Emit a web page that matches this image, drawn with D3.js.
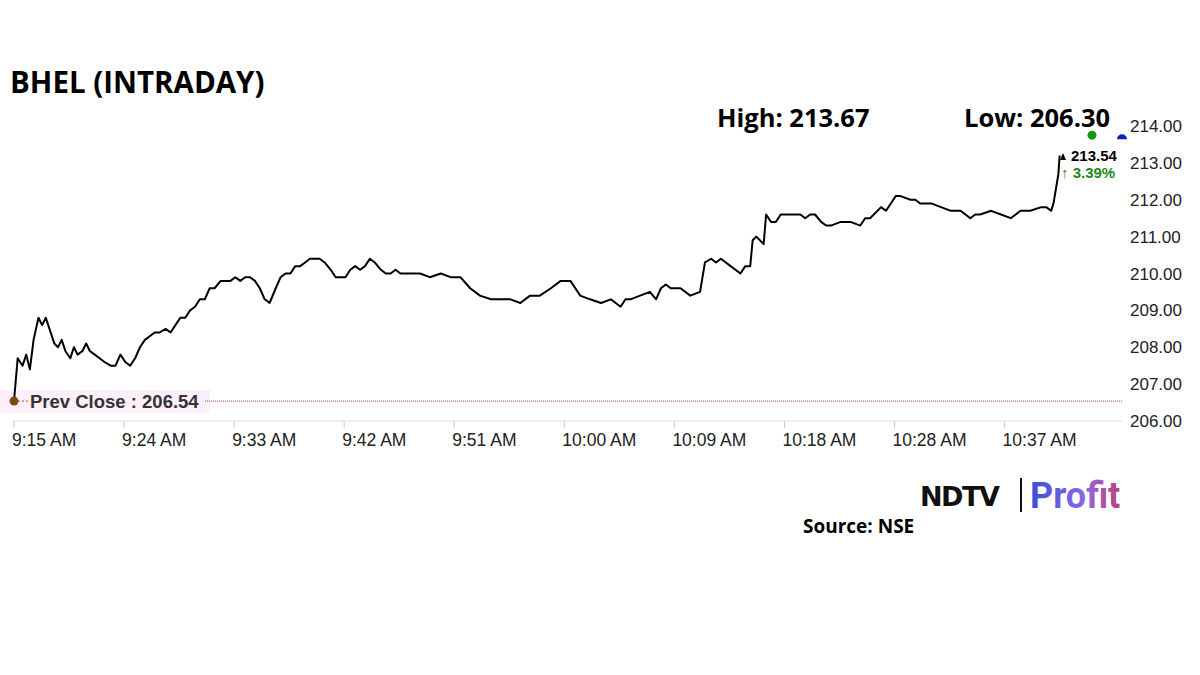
<!DOCTYPE html>
<html><head><meta charset="utf-8">
<script src="https://cdn.jsdelivr.net/npm/d3@7"></script>
<style>body{margin:0;background:#fff}svg{display:block}</style>
</head><body>
<svg id="c" width="1200" height="675"></svg>
<script>
// minutes since 9:15 AM
const minutes=[0,0.3,0.7,1.0,1.3,1.6,2.0,2.3,2.6,2.9,3.3,3.6,3.9,4.2,4.6,4.9,5.2,5.6,5.9,6.2,6.6,7.0,7.4,7.9,8.3,8.7,9.1,9.5,9.9,10.3,10.7,11.1,11.5,11.9,12.4,12.8,13.2,13.6,14.0,14.4,14.8,15.2,15.6,16.0,16.4,16.9,17.3,17.7,18.1,18.5,18.9,19.3,19.7,20.1,20.5,20.9,21.4,21.8,22.2,22.6,23.0,23.4,23.8,24.2,24.6,25.0,25.4,25.9,26.3,26.7,27.1,27.5,27.9,28.3,28.7,29.1,29.5,30.0,30.4,30.8,31.2,31.6,32.4,33.2,34.0,34.9,35.7,36.5,37.3,38.1,39.0,39.8,40.6,41.4,42.2,43.0,43.9,44.7,45.5,45.9,46.3,47.1,48.0,48.8,49.6,50.0,50.4,51.2,52.0,52.5,52.9,53.3,53.7,54.5,55.3,56.1,56.5,57.0,57.4,57.8,58.6,59.4,59.8,60.2,60.4,60.7,61.3,61.5,61.9,62.3,62.7,63.5,64.3,64.7,65.1,65.5,66.0,66.4,66.8,67.6,68.4,69.2,69.6,70.0,70.9,71.3,71.7,72.1,72.5,73.3,73.7,74.1,75.0,75.8,76.6,77.4,77.8,78.2,78.6,79.0,79.9,80.7,81.5,82.3,83.1,84.0,84.4,84.8,85.0,85.4,85.5];
const prices=[206.54,207.7,207.5,207.8,207.4,208.2,208.8,208.6,208.8,208.5,208.1,208.0,208.2,207.9,207.7,208.0,207.8,207.9,208.1,207.9,207.8,207.7,207.6,207.5,207.5,207.8,207.6,207.5,207.7,208.0,208.2,208.3,208.4,208.4,208.5,208.4,208.6,208.8,208.8,209.0,209.1,209.3,209.3,209.6,209.6,209.8,209.8,209.8,209.9,209.8,209.9,209.9,209.8,209.6,209.3,209.2,209.6,209.9,210.0,210.0,210.2,210.2,210.3,210.4,210.4,210.4,210.3,210.1,209.9,209.9,209.9,210.1,210.2,210.1,210.2,210.4,210.3,210.1,210.0,210.0,210.1,210.0,210.0,210.0,209.9,210.0,209.9,209.9,209.6,209.4,209.3,209.3,209.3,209.2,209.4,209.4,209.6,209.8,209.8,209.6,209.4,209.3,209.2,209.3,209.1,209.3,209.3,209.4,209.5,209.3,209.6,209.7,209.6,209.6,209.4,209.5,210.3,210.4,210.3,210.4,210.2,210.0,210.2,210.2,210.9,211.0,210.8,211.6,211.4,211.4,211.6,211.6,211.6,211.5,211.6,211.6,211.4,211.3,211.3,211.4,211.4,211.3,211.5,211.5,211.8,211.7,211.9,212.1,212.1,212.0,212.0,211.9,211.9,211.8,211.7,211.7,211.6,211.5,211.6,211.6,211.7,211.6,211.5,211.7,211.7,211.8,211.8,211.7,211.9,212.7,213.2];
const tickMinutes=[0,9,18,27,36,45,54,63,72,81];
const tickLabels=["9:15 AM","9:24 AM","9:33 AM","9:42 AM","9:51 AM","10:00 AM","10:09 AM","10:18 AM","10:28 AM","10:37 AM"];
const yTicks=[206,207,208,209,210,211,212,213,214];
const prevClose=206.54, high=213.67, low=206.30, lastPrice=213.54, changePct=3.39;

const svg=d3.select("#c");
const x=d3.scaleLinear().domain([0,90.6]).range([14,1122]);
const y=d3.scaleLinear().domain([206,214]).range([421,126]);
const F="Liberation Sans, Arial, sans-serif";

svg.append("text").attr("x",10).attr("y",93).text("BHEL (INTRADAY)")
 .attr("font-family","Open Sans, sans-serif").attr("font-weight",700).attr("font-size",29.5).attr("fill","#000");
svg.append("text").attr("x",717).attr("y",127).text("High: "+high.toFixed(2))
 .attr("font-family","Open Sans, sans-serif").attr("font-weight",700).attr("font-size",25.5);
svg.append("text").attr("x",964).attr("y",127).text("Low: "+low.toFixed(2))
 .attr("font-family","Open Sans, sans-serif").attr("font-weight",700).attr("font-size",25.5);

// x axis
svg.append("line").attr("x1",14).attr("x2",1122).attr("y1",421).attr("y2",421).attr("stroke","#ddd");
const xa=svg.append("g");
xa.selectAll("line").data(tickMinutes).join("line").attr("x1",d=>x(d)).attr("x2",d=>x(d))
 .attr("y1",421).attr("y2",428).attr("stroke","#ccc");
xa.selectAll("text").data(tickMinutes).join("text").attr("x",d=>x(d)-2).attr("y",446)
 .text((d,i)=>tickLabels[i]).attr("font-family",F).attr("font-size",17.5).attr("fill","#222");
// y axis
svg.append("g").selectAll("text").data(yTicks).join("text").attr("x",1130).attr("y",d=>y(d)+6)
 .text(d=>d.toFixed(2)).attr("font-family",F).attr("font-size",17).attr("fill","#222");

// prev close
svg.append("rect").attr("x",0).attr("y",y(prevClose)-11).attr("width",210).attr("height",23).attr("fill","#fdf0fa");
svg.append("line").attr("x1",205).attr("x2",1122).attr("y1",y(prevClose)).attr("y2",y(prevClose))
 .attr("stroke","#a0522d").attr("stroke-width",1).attr("stroke-dasharray","1,1");
svg.append("line").attr("x1",14).attr("x2",28).attr("y1",y(prevClose)).attr("y2",y(prevClose))
 .attr("stroke","#a0522d").attr("stroke-dasharray","2,2");
svg.append("text").attr("x",30).attr("y",y(prevClose)+7).text("Prev Close : "+prevClose.toFixed(2))
 .attr("font-family",F).attr("font-weight",700).attr("font-size",18.5).attr("fill","#333");

// line
const data=minutes.map((m,i)=>[m,prices[i]]);
svg.append("path").datum(data).attr("fill","none").attr("stroke","#000").attr("stroke-width",2)
 .attr("stroke-linejoin","round").attr("d",d3.line().x(d=>x(d[0])).y(d=>y(d[1])));
svg.append("circle").attr("cx",x(0)).attr("cy",y(prevClose)).attr("r",4.5).attr("fill","#7a4a10");

// markers
svg.append("circle").attr("cx",1092).attr("cy",y(high)-3).attr("r",4.5).attr("fill","#119911");
svg.append("path").attr("d",d3.arc()({innerRadius:0,outerRadius:5,startAngle:-Math.PI/2,endAngle:Math.PI/2}))
 .attr("transform",`translate(1122,${y(high)+1})`).attr("fill","#1020c0");
svg.append("path").attr("d","M1060,160 L1063,153 L1066,160 Z").attr("fill","#000");
svg.append("text").attr("x",1071).attr("y",161).text(lastPrice.toFixed(2))
 .attr("font-family",F).attr("font-weight",700).attr("font-size",15);
svg.append("text").attr("x",1061).attr("y",178).text("↑ "+changePct.toFixed(2)+"%")
 .attr("font-family",F).attr("font-weight",700).attr("font-size",15).attr("fill","#1a8a1a");

// logo
svg.append("text").attr("x",920).attr("y",506).text("NDTV")
 .attr("font-family","DejaVu Sans, sans-serif").attr("font-weight",900).attr("font-size",27).attr("letter-spacing",-1.5).attr("fill","#111");
svg.append("line").attr("x1",1021).attr("x2",1021).attr("y1",478).attr("y2",512).attr("stroke","#111").attr("stroke-width",2);
const g=svg.append("defs").append("linearGradient").attr("id","pg");
g.append("stop").attr("offset","0").attr("stop-color","#3a4fd8");
g.append("stop").attr("offset","0.6").attr("stop-color","#8a6ae0");
g.append("stop").attr("offset","1").attr("stop-color","#c0407a");
svg.append("text").attr("x",1030).attr("y",508).text("Profit")
 .attr("font-family","Roboto, sans-serif").attr("font-weight",700).attr("font-size",36).attr("fill","url(#pg)");
svg.append("text").attr("x",803).attr("y",533).text("Source: NSE")
 .attr("font-family","Open Sans, sans-serif").attr("font-weight",700).attr("font-size",19);
</script>
</body></html>
